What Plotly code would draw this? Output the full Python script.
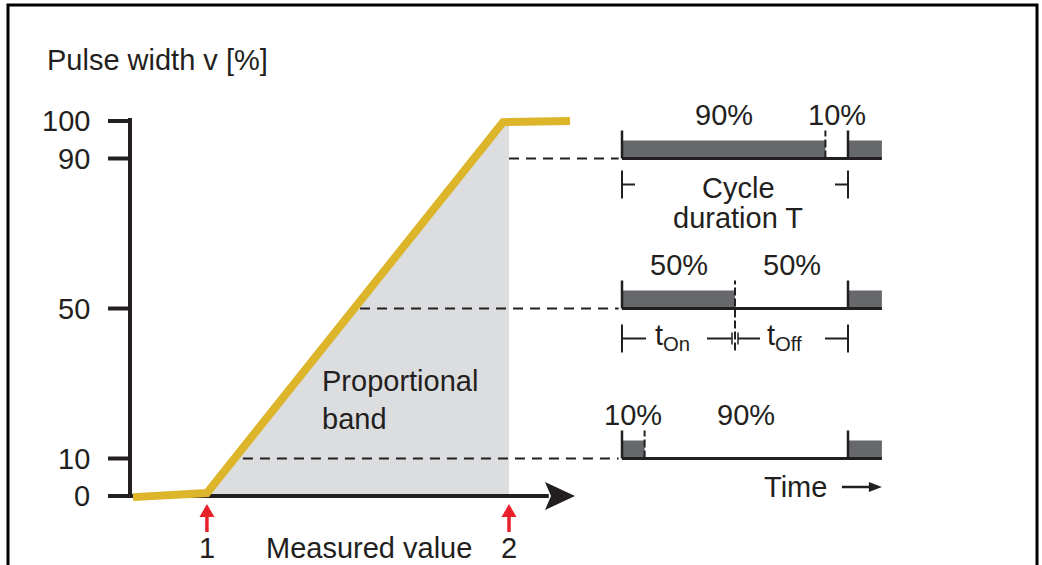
import numpy as np
import plotly.graph_objects as go

# ---- values ----
# pulse width axis (%)
y_ticks = [0, 10, 50, 90, 100]
y_title = "Pulse width v [%]"
x_title = "Measured value"

# controller characteristic: measured value -> pulse width %
curve_x = [0.8, 20.3, 98.4, 116.1]
curve_y = [-0.3, 0.8, 99.7, 100.0]

# proportional band limits (points 1 and 2)
point_labels = ["1", "2"]
point_x = [20.3, 100.0]
band_text = "Proportional<br>band"

# pulse examples on the time axis (cycle duration T = 100)
levels = [90, 50, 10]
duty = [90, 50, 10]
dash_start = [100.0, 60.7, 29.8]
cycle = 100
time_end = 115

# ---- layout constants (pixels) ----
W, H = 1042, 565
X0_PX, X_SCALE = 130, 3.79   # measured value axis
T0_PX, T_SCALE = 622, 2.26   # time axis
Y0_PX, Y_SCALE = 496, 3.75   # pulse width axis

INK = "#231f20"
YELLOW = "#dcb52a"
BAND = "#dcdddf"
PULSE = "#67686b"
RED = "#e9212b"
FONT = "Liberation Sans, Arial, sans-serif"
FS = 29


def mx(px):
    return px / X_SCALE


def tx(px):
    return px / T_SCALE


def vy(px):
    return px / Y_SCALE


def t_to_m(t):
    return (T0_PX + t * T_SCALE - X0_PX) / X_SCALE


fig = go.Figure()


def line(xs, ys, width, color=INK, dash=None, axis="x"):
    fig.add_trace(go.Scatter(
        x=xs, y=ys, mode="lines", xaxis=axis, yaxis="y",
        line=dict(width=width, color=color, dash=dash),
        hoverinfo="skip", showlegend=False
    ))


def poly(xs, ys, color, axis="x"):
    fig.add_trace(go.Scatter(
        x=xs, y=ys, mode="lines", fill="toself", fillcolor=color,
        line=dict(width=0, color=color), xaxis=axis, yaxis="y",
        hoverinfo="skip", showlegend=False
    ))


def text(x, y, s, axis="x", anchor="center", size=FS):
    fig.add_annotation(
        x=x, y=y, xref=axis, yref="y", text=s, showarrow=False,
        xanchor=anchor, yanchor="middle", align=anchor if anchor != "right" else "right",
        font=dict(family=FONT, size=size, color=INK)
    )


# proportional band (gray area under the curve)
b0, b1 = point_x
inner = [x for x in curve_x if b0 < x < b1]
band_x = [b0, b0] + inner + [b1, b1]
band_y = [0, float(np.interp(b0, curve_x, curve_y))] + \
         [float(np.interp(x, curve_x, curve_y)) for x in inner] + \
         [float(np.interp(b1, curve_x, curve_y)), 0]
poly(band_x, band_y, BAND)

# dashed guides from the curve to the pulse rows
for lvl, xs in zip(levels, dash_start):
    line([xs, t_to_m(-1.5)], [lvl, lvl], 2, dash="10px,7px")

# y axis with ticks
line([0, 0], [-vy(2), 100 + vy(3)], 4)
for v in y_ticks:
    line([-mx(22), 0], [v, v], 4)
    text(-mx(38), v, str(v), anchor="right")

# x axis with arrow
line([-mx(22), 110.5], [0, 0], 4)
poly([mx(415), mx(445), mx(415), mx(421), mx(415)],
     [vy(14), 0, -vy(14), 0, vy(14)], INK)

# characteristic curve
line(curve_x, curve_y, 8, YELLOW)

# red markers for points 1 and 2
for px_, lab in zip(point_x, point_labels):
    line([px_, px_], [-vy(17), -vy(36)], 3.5, RED)
    poly([px_ - mx(7.5), px_, px_ + mx(7.5)], [-vy(21), -vy(8), -vy(21)], RED)
    text(px_, -vy(52), lab)

text(63, -vy(52), x_title)
text(-mx(85), vy(436), y_title, anchor="left")
text(mx(190), vy(96), band_text, anchor="left")

# pulse trains
bar_h = vy(18)
tick_h = vy(28)
for lvl, d in zip(levels, duty):
    poly([0, d, d, 0], [lvl, lvl, lvl + bar_h, lvl + bar_h], PULSE, "x2")
    poly([cycle, time_end, time_end, cycle],
         [lvl, lvl, lvl + bar_h, lvl + bar_h], PULSE, "x2")
    line([0, time_end], [lvl, lvl], 3, axis="x2")
    for t in (0, cycle):
        line([t, t], [lvl, lvl + tick_h], 2.5, axis="x2")
    lo = lvl - vy(42) if d == 50 else lvl
    line([d, d], [lo, lvl + tick_h], 2, dash="8px,3px", axis="x2")
    text(d / 2, lvl + 11.5, f"{d}%", "x2")
    text((d + cycle) / 2, lvl + 11.5, f"{cycle - d}%", "x2")

# cycle duration dimension
cy = levels[0] - vy(26)
for t in (0, cycle):
    line([t, t], [cy - tick_h / 2, cy + tick_h / 2], 2, axis="x2")
line([0, tx(13)], [cy, cy], 2, axis="x2")
line([cycle - tx(13), cycle], [cy, cy], 2, axis="x2")
text(51.5, cy + vy(-3), "Cycle", "x2")
text(51.5, cy - vy(33), "duration T", "x2")

# on / off dimension
oy = levels[1] - vy(30)
h = duty[1]
for t in (0, cycle):
    line([t, t], [oy - tick_h / 2, oy + tick_h / 2], 2, axis="x2")
line([0, tx(24)], [oy, oy], 2, axis="x2")
line([h - tx(28), h - tx(3)], [oy, oy], 2, axis="x2")
line([h + tx(3), h + tx(25)], [oy, oy], 2, axis="x2")
for t in (h - tx(3), h + tx(3)):
    line([t, t], [oy - vy(6), oy + vy(6)], 1.5, axis="x2")
line([cycle - tx(23), cycle], [oy, oy], 2, axis="x2")
text(22.5, oy + vy(2), "t<sub>On</sub>", "x2")
text(72, oy + vy(2), "t<sub>Off</sub>", "x2")

# time arrow
ty = vy(9)
text(91.5, ty, "Time", "x2", anchor="right")
line([97.3, time_end - tx(12)], [ty, ty], 2.5, axis="x2")
poly([time_end - tx(13), time_end, time_end - tx(13)],
     [ty + vy(5), ty, ty - vy(5)], INK, "x2")

# frame
fig.add_shape(type="rect", xref="paper", yref="paper",
              x0=8 / W, x1=1037 / W, y0=-0.05, y1=1 - 5 / H,
              line=dict(color="black", width=3))

fig.update_layout(
    width=W, height=H,
    margin=dict(l=0, r=0, t=0, b=0),
    paper_bgcolor="white", plot_bgcolor="white",
    hovermode=False, showlegend=False,
    xaxis=dict(range=[-X0_PX / X_SCALE, (W - X0_PX) / X_SCALE],
               visible=False, domain=[0, 1]),
    xaxis2=dict(range=[-T0_PX / T_SCALE, (W - T0_PX) / T_SCALE],
                visible=False, overlaying="x", anchor="y"),
    yaxis=dict(range=[-(H - Y0_PX) / Y_SCALE, Y0_PX / Y_SCALE],
               visible=False),
)

fig.write_html("out.html", config={"displayModeBar": False},
               post_script="document.body.style.margin='0';")
